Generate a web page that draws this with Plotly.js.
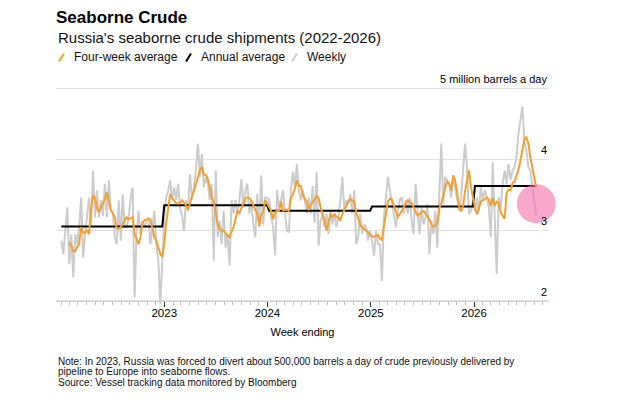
<!DOCTYPE html>
<html>
<head>
<meta charset="utf-8">
<script src="https://cdn.plot.ly/plotly-3.0.1.min.js"></script>
<style>html,body{margin:0;padding:0;background:#fff;}#chart{width:640px;height:405px;}</style>
</head>
<body>
<div id="chart"></div>
<script>
// ---- Data (million barrels a day) ----
const weekStart = '2022-01-02'; // first week ending
const weekly = [
  2.85, 2.66, 2.99, 3.32, 2.52, 2.94, 2.33, 2.94, 2.80, 3.04,
  3.46, 2.61, 2.95, 3.20, 3.46, 3.04, 3.84, 3.18, 3.56, 3.18,
  3.42, 3.20, 3.65, 3.18, 3.70, 3.27, 3.23, 2.90, 2.80, 3.42,
  2.85, 3.50, 3.04, 3.04, 3.18, 3.45, 3.60, 2.05, 2.94, 3.27,
  2.94, 3.13, 3.04, 3.13, 3.18, 2.80, 3.04, 3.27, 2.80, 2.57,
  1.95, 2.57, 3.18, 3.46, 3.56, 3.70, 3.42, 3.60,
  3.42, 3.65, 3.30, 3.20, 2.99, 3.42, 3.32, 3.79, 3.42, 3.60, 3.85, 4.22,
  3.75, 4.07, 3.60, 3.75, 3.65, 3.42, 3.65, 2.57, 3.84, 2.90,
  3.13, 2.80, 3.27, 2.75, 2.94, 2.50, 3.42, 3.23, 3.42, 3.23,
  3.42, 3.72, 3.32, 3.56, 3.65, 3.23, 3.42, 3.08, 2.90, 3.51,
  3.04, 3.77, 3.08, 3.46, 3.46, 3.42, 3.18, 3.04, 2.64, 3.56,
  3.32, 3.42, 3.56, 3.23, 2.99, 2.97, 3.56, 3.82, 3.60,
  3.93, 3.56, 3.42, 3.56, 3.42, 3.23, 3.46, 3.23, 3.62, 3.10, 3.82,
  2.78, 3.13, 3.23, 3.04, 3.23, 2.94, 3.27, 3.08, 3.23, 3.04,
  3.18, 3.42, 3.75, 3.27, 3.42, 3.37, 3.51, 3.23, 3.56, 2.80,
  2.90, 3.23, 2.94, 3.08, 3.04, 2.85, 2.99, 2.85, 2.64, 2.99,
  2.80, 2.80, 2.28, 3.18, 3.42, 3.75, 3.56, 3.42, 3.23, 3.04,
  3.27, 3.42, 3.46, 3.23, 3.42, 3.23, 3.46, 3.13, 2.94, 3.65,
  3.27, 2.94, 3.32, 3.08, 3.18, 3.37, 2.66, 3.13, 2.94, 3.27,
  2.75, 3.65, 4.22, 3.37, 3.75, 3.70, 3.65, 3.46, 3.75, 3.60,
  3.42, 3.27, 3.46, 3.89, 4.22, 3.89, 3.23, 3.27, 3.42, 3.27,
  3.46, 3.27, 3.60, 3.42, 3.56, 3.46, 3.32, 2.90, 3.96, 3.18,
  2.38, 3.46, 3.32, 3.65, 3.84, 3.65, 3.93, 3.70, 3.84, 3.89,
  4.03, 4.36, 4.55, 4.74, 4.26, 4.12, 3.89, 3.84, 3.60, 3.42, 3.20
];
const fourWeek = [
  null, null, null, null, 2.83, 2.78, 2.70, 2.70, 2.76, 2.80,
  3.04, 2.96, 2.96, 3.00, 2.94, 3.30, 3.48, 3.46, 3.30, 3.25,
  3.32, 3.38, 3.44, 3.53, 3.38, 3.28, 3.24, 3.18, 3.02, 3.02,
  3.04, 3.08, 3.14, 3.18, 3.15, 3.17, 3.18, 2.95, 2.86, 2.80,
  2.90, 3.10, 3.14, 3.15, 3.15, 3.15, 3.02, 2.90, 2.85, 2.75,
  2.66, 2.62, 2.80, 3.10, 3.35, 3.51, 3.45, 3.42, 3.38,
  3.37, 3.38, 3.42, 3.38, 3.35, 3.28, 3.40, 3.48, 3.55, 3.64, 3.75,
  3.84, 3.89, 3.78, 3.78, 3.72, 3.60, 3.46, 3.40, 3.22, 3.08,
  3.02, 2.99, 2.99, 2.95, 2.92, 2.90, 2.97, 3.04, 3.15, 3.27,
  3.24, 3.30, 3.36, 3.44, 3.46, 3.45, 3.42, 3.34, 3.28, 3.23,
  3.06, 3.22, 3.26, 3.42, 3.38, 3.32, 3.27, 3.15, 3.25, 3.27,
  3.27, 3.40, 3.28, 3.28, 3.29, 3.27, 3.45, 3.50, 3.58, 3.70, 3.62,
  3.62, 3.50, 3.44, 3.40, 3.28, 3.36, 3.40, 3.42, 3.48,
  3.45, 3.32, 3.23, 3.13, 2.99, 3.13, 3.23, 3.18, 3.23, 3.18,
  3.18, 3.13, 3.23, 3.28, 3.35, 3.40, 3.44, 3.42, 3.40, 3.25,
  3.14, 3.07, 3.04, 3.02, 3.00, 2.97, 2.93, 2.91, 2.90, 2.92,
  2.93, 2.88, 2.86, 3.05, 3.22, 3.40, 3.44, 3.43, 3.35, 3.27,
  3.18, 3.22, 3.28, 3.32, 3.37, 3.42, 3.40, 3.38, 3.32, 3.27,
  3.20, 3.22, 3.26, 3.27, 3.22, 3.19, 3.15, 3.08, 3.05, 3.06,
  3.10, 3.30, 3.38, 3.50, 3.60, 3.68, 3.65, 3.56, 3.77, 3.70,
  3.52, 3.34, 3.26, 3.35, 3.55, 3.70, 3.84, 3.60, 3.43, 3.32,
  3.22, 3.30, 3.40, 3.42, 3.43, 3.46, 3.43, 3.34, 3.45, 3.34,
  3.40, 3.38, 3.26, 3.20, 3.16, 3.52, 3.57, 3.56, 3.66, 3.68,
  3.76, 3.85, 3.98, 4.12, 4.28, 4.31, 4.22, 4.03, 3.88, 3.74, 3.59
];
const annualYears = [2022, 2023, 2024, 2025, 2026];
const annualValues = [3.05, 3.35, 3.27, 3.33, 3.62];
const highlightValue = [3.37]; // circle on the latest week
const yTickVals = [2, 3, 4, 5];
const yTickText = ['2', '3', '4', '5 million barrels a day'];
const xTickVals = ['2023-01-01', '2024-01-01', '2025-01-01', '2026-01-01'];
const xTickText = ['2023', '2024', '2025', '2026'];
const noteLines = [
  'Note: In 2023, Russia was forced to divert about 500,000 barrels a day of crude previously delivered by',
  'pipeline to Europe into seaborne flows.',
  'Source: Vessel tracking data monitored by Bloomberg'
];

// ---- Derived ----
const startMs = Date.parse(weekStart + 'T00:00:00Z');
const dates = weekly.map((_, i) => new Date(startMs + i * 7 * 86400000).toISOString().slice(0, 10));
const annualLine = dates.map(d => annualValues[annualYears.indexOf(+d.slice(0, 4))]);
const lastDate = [dates[dates.length - 1]];

const FONT = 'Liberation Sans, Arial, sans-serif';
const ORANGE = '#f4a030';

const Y0 = 1.9, Y1 = 5.2;           // y range
const PXU = 70.7;                    // pixels per unit
const plotTop = 88.6 - (Y1 - 5) * PXU;
const plotBot = 300.7 + (2 - Y0) * PXU;

const traces = [
  {x: dates, y: weekly, type: 'scatter', mode: 'lines', name: 'Weekly',
   line: {color: '#cccccc', width: 2}, hoverinfo: 'skip'},
  {x: dates, y: annualLine, type: 'scatter', mode: 'lines', name: 'Annual average',
   line: {color: '#000000', width: 2}, hoverinfo: 'skip'},
  {x: dates, y: fourWeek, type: 'scatter', mode: 'lines', name: 'Four-week average',
   line: {color: ORANGE, width: 2}, connectgaps: false, hoverinfo: 'skip'},
  {x: lastDate, y: highlightValue, type: 'scatter', mode: 'markers', showlegend: false,
   marker: {size: 39, color: 'rgba(245,110,170,0.6)', line: {width: 0}}, cliponaxis: false, hoverinfo: 'skip'}
];

function py(p) { return (plotBot - p) / (plotBot - plotTop); } // pixel y -> paper y
function px(p) { return (p - 56) / 493.3; }                     // pixel x -> paper x

const slash = (x0, color) => ({
  type: 'line', xref: 'paper', yref: 'paper', xsizemode: 'pixel', ysizemode: 'pixel',
  xanchor: 0, yanchor: 1, x0: x0, x1: x0 + 5, y0: plotTop - 62, y1: plotTop - 54,
  line: {color: color, width: 2}
});

const yLabels = yTickVals.map((v, k) => ({
  text: yTickText[k], xref: 'paper', yref: 'y', x: 1, y: v, xanchor: 'right', yanchor: 'bottom',
  yshift: 1, showarrow: false, font: {family: FONT, size: 11, color: '#000'}
}));

const noteY = [360.7, 371.3, 382.3];
const notes = noteLines.map((t, k) => ({
  text: t, xref: 'paper', yref: 'paper', x: 0, y: py(noteY[k]), xanchor: 'left', yanchor: 'middle',
  align: 'left', showarrow: false, font: {family: FONT, size: 10, color: '#111'}
}));

const layout = {
  width: 640, height: 405,
  paper_bgcolor: '#ffffff', plot_bgcolor: '#ffffff',
  margin: {l: 56, r: 91, t: plotTop, b: 405 - plotBot},
  showlegend: false,
  font: {family: FONT, color: '#000'},
  title: {text: '<b>Seaborne Crude</b>', font: {family: FONT, size: 17, color: '#000'},
          x: 56 / 640, xref: 'container', xanchor: 'left', y: 1 - 17 / 405, yref: 'container', yanchor: 'middle'},
  xaxis: {
    type: 'date', range: ['2021-12-14', '2026-09-23'],
    anchor: 'free', position: (2 - Y0) / (Y1 - Y0),
    tickvals: xTickVals, ticktext: xTickText,
    ticks: 'outside', ticklen: 5, tickwidth: 1, tickcolor: '#333',
    showgrid: false, zeroline: false, showline: true, linecolor: '#d0d0d0', linewidth: 1,
    tickfont: {family: FONT, size: 11.5, color: '#000'}, ticklabelstandoff: -4,
    minor: {dtick: 'M1', tick0: '2022-01-01', ticks: 'outside', ticklen: 3, tickcolor: '#bbbbbb', showgrid: false},
    title: {text: 'Week ending', font: {family: FONT, size: 11, color: '#000'}, standoff: 10},
    automargin: false, fixedrange: true
  },
  yaxis: {
    range: [Y0, Y1], side: 'right', tickvals: yTickVals, showticklabels: false,
    showgrid: true, gridcolor: '#e2e2e2', gridwidth: 1, zeroline: false, showline: false, ticks: '',
    automargin: false, fixedrange: true
  },
  shapes: [slash(3, ORANGE), slash(130, '#000000'), slash(236, '#cccccc')],
  annotations: yLabels.concat(notes, [
    {text: "Russia's seaborne crude shipments (2022-2026)", xref: 'paper', yref: 'paper',
     x: 0, y: py(38), xanchor: 'left', yanchor: 'middle', showarrow: false,
     font: {family: FONT, size: 15, color: '#111'}},
    {text: 'Four-week average', xref: 'paper', yref: 'paper', x: px(72), y: py(58),
     xanchor: 'left', yanchor: 'middle', showarrow: false, font: {family: FONT, size: 12, color: '#111'}},
    {text: 'Annual average', xref: 'paper', yref: 'paper', x: px(199), y: py(58),
     xanchor: 'left', yanchor: 'middle', showarrow: false, font: {family: FONT, size: 12, color: '#111'}},
    {text: 'Weekly', xref: 'paper', yref: 'paper', x: px(305), y: py(58),
     xanchor: 'left', yanchor: 'middle', showarrow: false, font: {family: FONT, size: 12, color: '#111'}}
  ])
};

Plotly.newPlot('chart', traces, layout, {displayModeBar: false, staticPlot: true});
</script>
</body>
</html>
